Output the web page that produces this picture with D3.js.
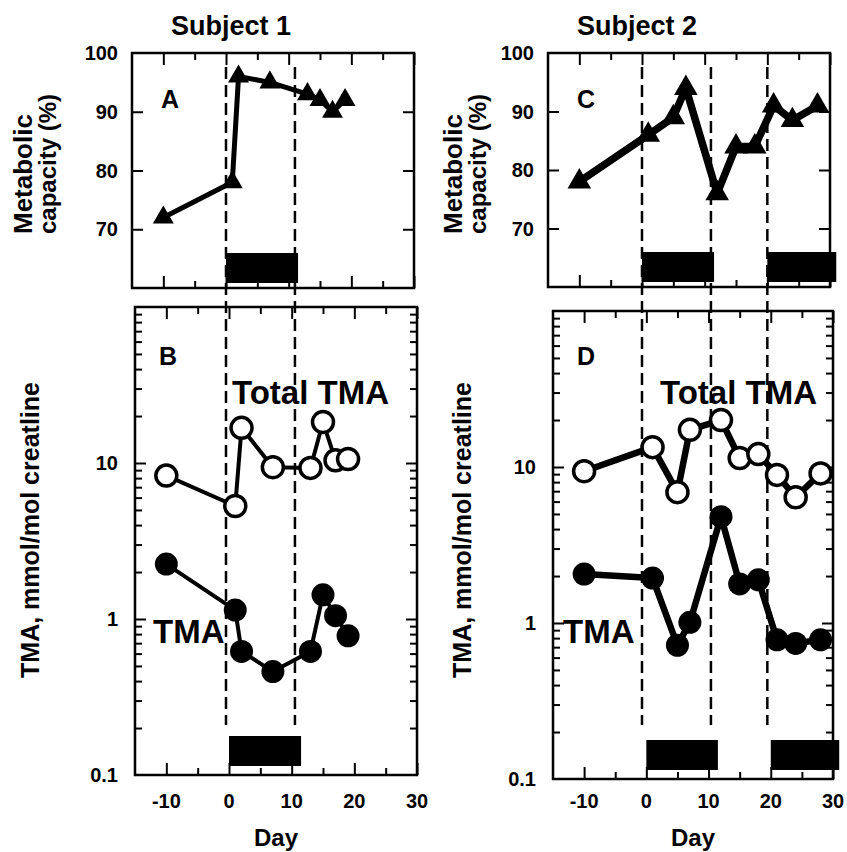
<!DOCTYPE html>
<html>
<head>
<meta charset="utf-8">
<script src="https://cdn.jsdelivr.net/npm/d3@7"></script>
<style>
body { margin: 0; background: #fff; }
text { font-family: "Liberation Sans", Arial, Helvetica, sans-serif; font-weight: bold; fill: #000; }
</style>
</head>
<body>
<div id="chart"></div>
<script>
// tick values
var dayMajor = [-10, 0, 10, 20, 30];
var dayMinor = [-5, 5, 15, 25];
var metTicks = [70, 80, 90, 100];
var logLabels = [0.1, 1, 10];

// subject 1
var s1Days = [-10, 1, 2, 7, 13, 15, 17, 19];
var s1Metabolic = [72, 78, 96, 95, 93, 92, 90, 92];
var s1Total = [8.3, 5.3, 16.8, 9.4, 9.3, 18.3, 10.4, 10.6];
var s1Tma = [2.25, 1.14, 0.62, 0.46, 0.62, 1.43, 1.05, 0.78];
var s1Dashes = [0, 11];
var s1Treat = [[0, 11.5]];

// subject 2
var s2Days = [-10, 1, 5, 7, 12, 15, 18, 21, 24, 28];
var s2Metabolic = [78, 86, 89, 94, 76, 84, 84, 91, 88.5, 91];
var s2Total = [9.4, 13.4, 6.9, 17.3, 20, 11.4, 12.1, 8.9, 6.4, 9.1];
var s2Tma = [2.06, 1.94, 0.72, 1.01, 4.8, 1.78, 1.89, 0.78, 0.74, 0.78];
var s2Dashes = [0, 11, 20];
var s2Treat = [[0, 11.5], [20, 31]];

var svg = d3.select("#chart").append("svg")
    .attr("width", 847)
    .attr("height", 852);

function zip(xs, ys) {
    return xs.map(function (d, i) { return [d, ys[i]]; });
}

// ticks pointing inward on all four sides
function frameTicks(g, x, y, box, yMajor, yMinor) {
    function clean(sel) {
        sel.select(".domain").remove();
        sel.selectAll(".tick line").attr("stroke", "#000").attr("stroke-width", 2);
        sel.selectAll(".tick text").remove();
    }
    g.append("g").attr("transform", "translate(0," + box.y1 + ")")
        .call(d3.axisBottom(x).tickValues(dayMajor).tickSize(-12)).call(clean);
    g.append("g").attr("transform", "translate(0," + box.y1 + ")")
        .call(d3.axisBottom(x).tickValues(dayMinor).tickSize(-7)).call(clean);
    g.append("g").attr("transform", "translate(0," + box.y0 + ")")
        .call(d3.axisTop(x).tickValues(dayMajor).tickSize(-12)).call(clean);
    g.append("g").attr("transform", "translate(0," + box.y0 + ")")
        .call(d3.axisTop(x).tickValues(dayMinor).tickSize(-7)).call(clean);
    g.append("g").attr("transform", "translate(" + box.x0 + ",0)")
        .call(d3.axisLeft(y).tickValues(yMajor).tickSize(-11)).call(clean);
    g.append("g").attr("transform", "translate(" + box.x1 + ",0)")
        .call(d3.axisRight(y).tickValues(yMajor).tickSize(-11)).call(clean);
    if (yMinor) {
        g.append("g").attr("transform", "translate(" + box.x0 + ",0)")
            .call(d3.axisLeft(y).tickValues(yMinor).tickSize(-7)).call(clean);
        g.append("g").attr("transform", "translate(" + box.x1 + ",0)")
            .call(d3.axisRight(y).tickValues(yMinor).tickSize(-7)).call(clean);
    }
    g.append("rect").attr("x", box.x0).attr("y", box.y0)
        .attr("width", box.x1 - box.x0).attr("height", box.y1 - box.y0)
        .attr("fill", "none").attr("stroke", "#000").attr("stroke-width", 2.5);
}

function yLabels(g, y, values, xEnd) {
    g.append("g").selectAll("text").data(values).enter().append("text")
        .attr("x", xEnd)
        .attr("y", function (d) { return y(d); })
        .attr("dy", "0.36em")
        .attr("text-anchor", "end")
        .attr("font-size", 20)
        .text(function (d) { return d; });
}

function treatBars(g, x, periods, bottom) {
    g.append("g").selectAll("rect").data(periods).enter().append("rect")
        .attr("x", function (d) { return x(d[0]); })
        .attr("width", function (d) { return x(d[1]) - x(d[0]); })
        .attr("y", bottom - 31)
        .attr("height", 30)
        .attr("fill", "#000");
}

function series(g, x, y, pts, lw) {
    g.append("path").datum(pts)
        .attr("d", d3.line().x(function (d) { return x(d[0]); }).y(function (d) { return y(d[1]); }))
        .attr("fill", "none")
        .attr("stroke", "#000")
        .attr("stroke-width", lw)
        .attr("stroke-linejoin", "round");
}

function circles(g, x, y, pts, r, fill, sw) {
    g.append("g").selectAll("circle").data(pts).enter().append("circle")
        .attr("cx", function (d) { return x(d[0]); })
        .attr("cy", function (d) { return y(d[1]); })
        .attr("r", r)
        .attr("fill", fill)
        .attr("stroke", "#000")
        .attr("stroke-width", sw);
}

function drawColumn(c) {
    var g = svg.append("g");
    var top = c.top, bot = c.bot;

    var xTop = d3.scaleLinear().domain([-15, 30]).range([top.x0, top.x1]);
    var yTop = d3.scaleLinear().domain([60, 100]).range([top.y1, top.y0]);
    var xBot = d3.scaleLinear().domain([-15, 30]).range([bot.x0, bot.x1]);
    var yBot = d3.scaleLog().domain([0.1, 100]).range([bot.y1, bot.y0]);

    // treatment dashed lines through both panels
    g.append("g").selectAll("line").data(c.dashes).enter().append("line")
        .attr("x1", function (d) { return xTop(d); })
        .attr("x2", function (d) { return xTop(d); })
        .attr("y1", 67).attr("y2", 725)
        .attr("stroke", "#000").attr("stroke-width", 2.5)
        .attr("stroke-dasharray", "12,6");

    // top panel: metabolic capacity
    var gt = g.append("g");
    frameTicks(gt, xTop, yTop, top, [70, 80, 90]);
    yLabels(gt, yTop, metTicks, top.x0 - 14);
    treatBars(gt, xTop, c.treat, top.y1 - 4);
    var met = zip(c.days, c.metabolic);
    series(gt, xTop, yTop, met, c.lw);
    gt.append("g").selectAll("path").data(met).enter().append("path")
        .attr("d", d3.symbol(d3.symbolTriangle, c.triSize))
        .attr("transform", function (d) { return "translate(" + xTop(d[0]) + "," + yTop(d[1]) + ")"; })
        .attr("fill", "#000");

    // bottom panel: TMA (log)
    var gb = g.append("g");
    var minor = yBot.ticks().filter(function (d) { return [0.1, 1, 10, 100].indexOf(d) < 0; });
    frameTicks(gb, xBot, yBot, bot, [1, 10], minor);
    yLabels(gb, yBot, logLabels, bot.x0 - 17);
    treatBars(gb, xBot, c.treat, bot.y1 - 8);

    var tot = zip(c.days, c.total);
    var tma = zip(c.days, c.tma);
    series(gb, xBot, yBot, tot, c.lw - 1);
    series(gb, xBot, yBot, tma, c.lw - 1);
    circles(gb, xBot, yBot, tot, 10.5, "#fff", 3.5);
    circles(gb, xBot, yBot, tma, 11.5, "#000", 0);

    // x tick labels and axis title
    gb.append("g").selectAll("text").data(dayMajor).enter().append("text")
        .attr("x", function (d) { return xBot(d); })
        .attr("y", 808)
        .attr("text-anchor", "middle")
        .attr("font-size", 20)
        .text(function (d) { return d; });
    gb.append("text").attr("x", xBot(7.5)).attr("y", 846)
        .attr("text-anchor", "middle").attr("font-size", 24).text("Day");

    // titles and labels
    g.append("text").attr("x", c.titleX).attr("y", 35)
        .attr("text-anchor", "middle").attr("font-size", 27).text(c.title);
    g.append("text").attr("x", top.x0 + 38).attr("y", 108)
        .attr("text-anchor", "middle").attr("font-size", 25).text(c.letters[0]);
    g.append("text").attr("x", bot.x0 + 33).attr("y", 365)
        .attr("text-anchor", "middle").attr("font-size", 25).text(c.letters[1]);
    g.append("text").attr("x", c.totalX).attr("y", 404)
        .attr("font-size", 33).text("Total TMA");
    g.append("text").attr("x", c.tmaX).attr("y", 643)
        .attr("font-size", 33).text("TMA");

    g.append("text")
        .attr("transform", "translate(" + c.metX + ",234) rotate(-90)")
        .attr("font-size", 26).text("Metabolic");
    g.append("text")
        .attr("transform", "translate(" + (c.metX + 24) + ",234) rotate(-90)")
        .attr("font-size", 24).text("capacity (%)");
    g.append("text")
        .attr("transform", "translate(" + c.tmaLabX + ",530) rotate(-90)")
        .attr("text-anchor", "middle").attr("font-size", 25).text("TMA, mmol/mol creatline");
}

drawColumn({
    title: "Subject 1", titleX: 231, letters: ["A", "B"],
    top: { x0: 132, x1: 414, y0: 53, y1: 288 },
    bot: { x0: 135, x1: 417, y0: 307, y1: 775 },
    days: s1Days, metabolic: s1Metabolic, total: s1Total, tma: s1Tma,
    dashes: s1Dashes, treat: s1Treat,
    lw: 5, triSize: 190,
    totalX: 232, tmaX: 153, metX: 32, tmaLabX: 39
});

drawColumn({
    title: "Subject 2", titleX: 637, letters: ["C", "D"],
    top: { x0: 548, x1: 830, y0: 53, y1: 287 },
    bot: { x0: 553, x1: 833, y0: 311, y1: 779 },
    days: s2Days, metabolic: s2Metabolic, total: s2Total, tma: s2Tma,
    dashes: s2Dashes, treat: s2Treat,
    lw: 7.5, triSize: 240,
    totalX: 660, tmaX: 563, metX: 462, tmaLabX: 471
});
</script>
</body>
</html>
